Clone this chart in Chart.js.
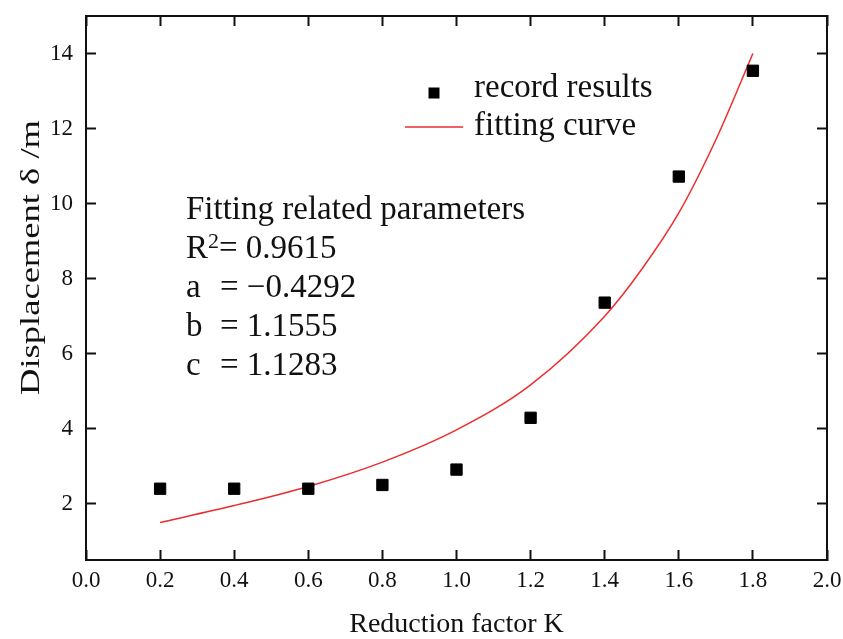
<!DOCTYPE html>
<html>
<head>
<meta charset="utf-8">
<script src="https://cdn.jsdelivr.net/npm/chart.js@4"></script>
<style>
  html, body { margin: 0; padding: 0; background: #fff; }
  #wrap { width: 843px; height: 639px; }
</style>
</head>
<body>
<div id="wrap"><canvas id="dispChart" width="843" height="639"></canvas></div>
<script>
// measured displacement at each reduction factor
const kValues = [0.2, 0.4, 0.6, 0.8, 1.0, 1.2, 1.4, 1.6, 1.8];
const recordValues = [2.40, 2.40, 2.40, 2.50, 2.91, 4.29, 7.36, 10.72, 13.54];

// fitted curve, sampled along K
const fitK = [0.2, 0.4, 0.6, 0.8, 1.0, 1.2, 1.4, 1.5, 1.6, 1.7, 1.8];
const fitValues = [1.50, 1.95, 2.46, 3.11, 3.97, 5.17, 7.00, 8.25, 9.75, 11.70, 14.0];

const xTicks = [0.0, 0.2, 0.4, 0.6, 0.8, 1.0, 1.2, 1.4, 1.6, 1.8, 2.0];
const yTicks = [2, 4, 6, 8, 10, 12, 14];

const yTitle = 'Displacement \u03b4 /m';
const paramTitle = 'Fitting related parameters';
const rSquared = '0.9615';
const paramNames = ['a', 'b', 'c'];
const paramValues = ['\u22120.4292', '1.1555', '1.1283'];

const SERIF = "'Liberation Serif', 'Times New Roman', serif";
const INK = '#111';
const RED = 'rgb(235, 45, 45)';

function fixTicks(list) {
  return function (scale) {
    scale.ticks = list.map(v => ({ value: v }));
  };
}

// pin an axis to a fixed thickness and stop it from padding the chart area
function pinSize(prop, px) {
  return function (scale) {
    scale[prop] = px;
    scale.paddingLeft = scale.paddingRight = 0;
    scale.paddingTop = scale.paddingBottom = 0;
  };
}

// y title, legend and fit parameters
const notesPlugin = {
  id: 'notes',
  afterDraw(chart) {
    const ctx = chart.ctx;
    const pts = chart.data.datasets[0];
    const fit = chart.data.datasets[1];
    ctx.save();
    ctx.textBaseline = 'alphabetic';
    ctx.textAlign = 'left';
    ctx.fillStyle = INK;

    // y axis title, stretched along its length
    ctx.save();
    ctx.translate(38.5, 395);
    ctx.rotate(-Math.PI / 2);
    ctx.font = '28px ' + SERIF;
    ctx.scale(275 / ctx.measureText(yTitle).width, 1);
    ctx.fillText(yTitle, 0, 0);
    ctx.restore();

    // legend
    ctx.fillStyle = pts.backgroundColor;
    ctx.fillRect(434 - 5.5, 93 - 5.5, 11, 11);
    ctx.strokeStyle = fit.borderColor;
    ctx.lineWidth = fit.borderWidth;
    ctx.beginPath();
    ctx.moveTo(405, 127);
    ctx.lineTo(463, 127);
    ctx.stroke();
    ctx.fillStyle = INK;
    ctx.font = '33px ' + SERIF;
    ctx.fillText(pts.label, 474, 97);
    ctx.fillText(fit.label, 474, 135);

    // fit parameters
    const x0 = 186;
    const rows = [219, 258, 297, 336, 375];
    ctx.fillText(paramTitle, x0, rows[0]);
    ctx.fillText('R', x0, rows[1]);
    let rx = x0 + ctx.measureText('R').width;
    ctx.font = '22px ' + SERIF;
    ctx.fillText('2', rx, rows[1] - 10);
    rx += ctx.measureText('2').width;
    ctx.font = '33px ' + SERIF;
    ctx.fillText('= ' + rSquared, rx, rows[1]);
    paramNames.forEach((n, i) => {
      ctx.fillText(n, x0, rows[i + 2]);
      ctx.fillText('= ' + paramValues[i], 220, rows[i + 2]);
    });
    ctx.restore();
  }
};

const tickFont = { family: SERIF, size: 23 };
const titleFont = { family: SERIF, size: 28, lineHeight: 1 };
const frameGrid = { drawOnChartArea: false, tickLength: -10, tickWidth: 2, tickColor: INK };
const frameBorder = { color: INK, width: 2 };

new Chart('dispChart', {
  type: 'scatter',
  data: {
    datasets: [{
      label: 'record results',
      data: kValues.map((k, i) => ({ x: k, y: recordValues[i] })),
      pointStyle: 'rect',
      pointRadius: 8,
      pointBorderWidth: 1,
      backgroundColor: '#000',
      borderColor: '#000',
      order: 1
    }, {
      label: 'fitting curve',
      data: fitK.map((k, i) => ({ x: k, y: fitValues[i] })),
      showLine: true,
      pointRadius: 0,
      borderColor: RED,
      backgroundColor: RED,
      borderWidth: 1.5,
      cubicInterpolationMode: 'monotone',
      order: 2
    }]
  },
  options: {
    responsive: false,
    animation: false,
    layout: { padding: 0 },
    plugins: {
      legend: { display: false },
      tooltip: { enabled: false }
    },
    scales: {
      x: {
        type: 'linear',
        position: 'bottom',
        min: 0, max: 2,
        afterBuildTicks: fixTicks(xTicks),
        afterFit: pinSize('height', 79),
        border: frameBorder,
        grid: frameGrid,
        ticks: {
          padding: 17, color: INK, font: tickFont,
          maxRotation: 0, autoSkip: false,
          callback: v => Number(v).toFixed(1)
        },
        title: {
          display: true, text: 'Reduction factor K', color: INK,
          font: titleFont, padding: { top: 0, bottom: 0 }
        }
      },
      y: {
        type: 'linear',
        position: 'left',
        min: 0.5, max: 15,
        afterBuildTicks: fixTicks(yTicks),
        afterFit: pinSize('width', 86),
        border: frameBorder,
        grid: frameGrid,
        ticks: { padding: 23, color: INK, font: tickFont, callback: v => String(v) }
      },
      x2: {
        type: 'linear',
        position: 'top',
        min: 0, max: 2,
        afterBuildTicks: fixTicks(xTicks),
        afterFit: pinSize('height', 16),
        border: frameBorder,
        grid: frameGrid,
        ticks: { display: false }
      },
      y2: {
        type: 'linear',
        position: 'right',
        min: 0.5, max: 15,
        afterBuildTicks: fixTicks(yTicks),
        afterFit: pinSize('width', 16),
        border: frameBorder,
        grid: frameGrid,
        ticks: { display: false }
      }
    }
  },
  plugins: [notesPlugin]
});
</script>
</body>
</html>
